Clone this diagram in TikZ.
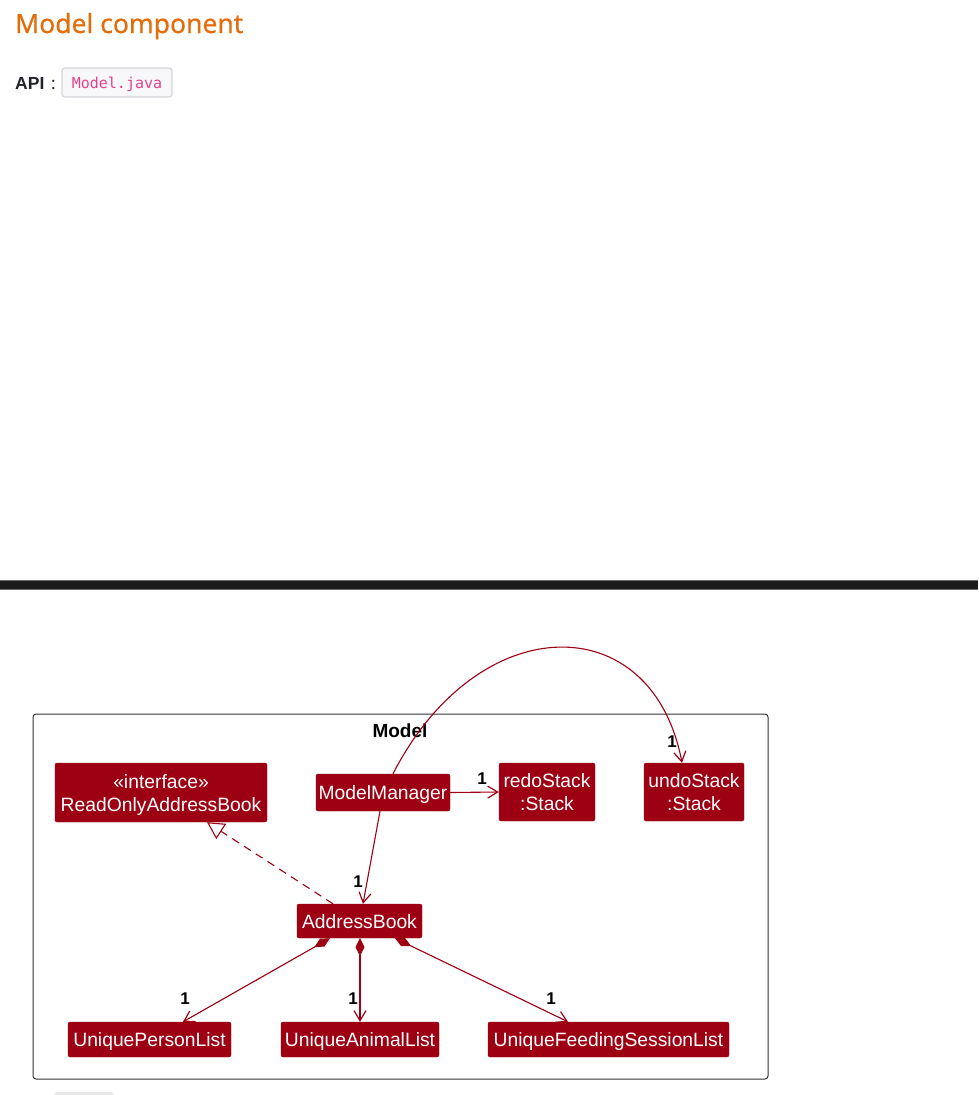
\documentclass[tikz,border=0pt]{standalone}
\usepackage{fontspec}
\setmainfont{Liberation Sans}
\newfontfamily\headfont{Noto Sans}
\newfontfamily\titlefont[FakeBold=0.5]{Noto Sans}
\newfontfamily\codefont{DejaVu Sans Mono}
\usetikzlibrary{arrows.meta,calc}
\definecolor{modelred}{HTML}{9D0012}
\definecolor{headorange}{HTML}{E46C0A}
\definecolor{codepink}{HTML}{E83E8C}
\definecolor{codebg}{HTML}{F8F8FA}
\definecolor{codeborder}{HTML}{D3D6DA}
\definecolor{bodytext}{HTML}{212529}
\definecolor{barcolor}{HTML}{1B1B1B}
\definecolor{baredge}{HTML}{6A6A6A}
\definecolor{framecolor}{HTML}{333333}
\definecolor{lightbox}{HTML}{E8E8E8}
\begin{document}
\begin{tikzpicture}[x=1pt,y=-1pt,
  cls/.style={fill=modelred, draw=modelred, rounded corners=2pt, text=white, inner sep=0pt,
    text depth=0pt, font=\fontsize{19.3}{23}\selectfont, align=center},
  lbl/.style={font=\bfseries\fontsize{17}{17}\selectfont, inner sep=0pt, text=black},
  conn/.style={draw=modelred, line width=1.1pt},
  opentip/.style={-{Straight Barb[length=10pt,width=12pt,line width=1.2pt]}},
  comptip/.style={{Diamond[length=18pt,width=9pt]}-{Straight Barb[length=10pt,width=12pt,line width=1.2pt]}},
  realtip/.style={-{Triangle[open,length=17pt,width=18pt,fill=white,line width=1.1pt]}},
  modelframe/.style={draw=framecolor, line width=1pt, rounded corners=3pt, inner sep=0pt}
]
\useasboundingbox (0,0) rectangle (978,1095);

% page header
\node[anchor=base west, inner sep=0pt, text=headorange, font=\titlefont\fontsize{26.5}{30}\selectfont] (title) at (15,33) {Model component};
\node[anchor=base west, inner sep=0pt, text=bodytext, font=\bfseries\fontsize{17.5}{20}\selectfont] (api) at (15,89) {API};
\node[anchor=base west, inner sep=0pt, text=bodytext, font=\headfont\fontsize{17}{20}\selectfont] (colon) at (51,89) {:};
\node[draw=codeborder, fill=codebg, rounded corners=3pt, line width=1.3pt, minimum width=110pt, minimum height=29pt, inner sep=0pt,
  text depth=0pt, text=codepink, font=\codefont\fontsize{15}{18}\selectfont] (code) at (117,82.5) {Model.java};

% separator bar
\fill[baredge] (0,580) rectangle (978,589.5);
\fill[barcolor] (0,581) rectangle (978,588.5);

% bottom partial box
\fill[lightbox, rounded corners=3pt] (54,1092) rectangle (114,1110);

% package frame
\node[modelframe, minimum width=735pt, minimum height=365pt] (frame) at (400.5,896.5) {};
\node[font=\bfseries\fontsize{19}{22}\selectfont, inner sep=0pt, anchor=base] (framelabel) at (400,737) {Model};

% classes
\node[cls, minimum width=212pt, minimum height=59pt] (roab) at (161,792.5) {«interface»\\ReadOnlyAddressBook};
\node[cls, minimum width=134pt, minimum height=37pt] (mm) at (383,792.5) {ModelManager};
\node[cls, minimum width=96pt, minimum height=58pt] (redo) at (547,792) {redoStack\\:Stack};
\node[cls, minimum width=100pt, minimum height=58pt] (undo) at (694,792) {undoStack\\:Stack};
\node[cls, minimum width=125pt, minimum height=34pt] (ab) at (359.5,921) {AddressBook};
\node[cls, minimum width=163pt, minimum height=35pt] (upl) at (149.5,1039.5) {UniquePersonList};
\node[cls, minimum width=158pt, minimum height=35pt] (ual) at (360,1039.5) {UniqueAnimalList};
\node[cls, minimum width=241pt, minimum height=35pt] (ufsl) at (608.5,1039.5) {UniqueFeedingSessionList};

% connectors
\draw[conn, opentip] (mm.east) -- (redo.west);
\draw[conn, opentip] ([xshift=10pt]mm.north) .. controls (478,608) and (652,606) .. ([xshift=-12pt]undo.north);
\draw[conn, opentip] ([xshift=-3pt]mm.south) -- ([xshift=3.5pt]ab.north);
\draw[conn, realtip, dash pattern=on 8pt off 6pt] ([xshift=-26.5pt]ab.north) -- ([xshift=46pt]roab.south);
\draw[conn, comptip, fill=modelred] ([xshift=-29.5pt]ab.south) -- ([xshift=33.5pt]upl.north);
\draw[conn, comptip, fill=modelred] ([xshift=0.5pt]ab.south) -- (ual.north);
\draw[conn, comptip, fill=modelred] ([xshift=35.5pt]ab.south) -- ([xshift=-40.5pt]ufsl.north);

% multiplicities
\node[lbl] (m1) at (482,779) {1};
\node[lbl] (m2) at (672,742) {1};
\node[lbl] (m3) at (358,882) {1};
\node[lbl] (m4) at (185,999) {1};
\node[lbl] (m5) at (353,999) {1};
\node[lbl] (m6) at (551,999) {1};
\end{tikzpicture}
\end{document}
